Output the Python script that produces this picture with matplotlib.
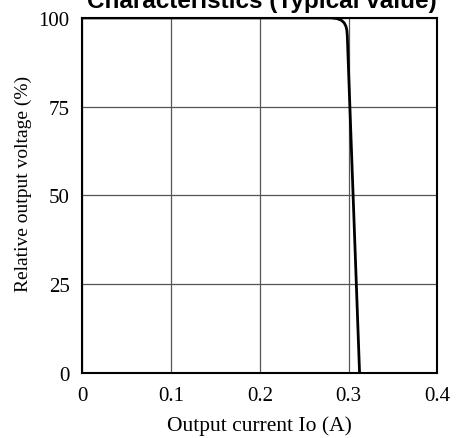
import matplotlib.pyplot as plt

plt.rcParams["font.family"] = ["Liberation Serif", "DejaVu Serif"]

# output characteristic curve
current = [0.0, 0.28, 0.287, 0.292, 0.295, 0.297, 0.298, 0.2985, 0.3123]
voltage = [100.0, 100.0, 99.8, 99.3, 98.6, 97.6, 96.5, 95.0, 0.0]

xticks = [0, 0.1, 0.2, 0.3, 0.4]
xticklabels = ["0", "0.1", "0.2", "0.3", "0.4"]
yticks = [0, 25, 50, 75, 100]

fig = plt.figure(figsize=(4.61, 4.39), dpi=100)
ax = fig.add_axes([0.178, 0.148, 0.771, 0.809])

ax.plot(current, voltage, color="black", linewidth=2, solid_joinstyle="round")

ax.set_xlim(0, 0.4)
ax.set_ylim(0, 100)
ax.set_xticks(xticks)
ax.set_xticklabels(xticklabels)
ax.set_yticks(yticks)
ax.grid(True, color="#555555", linewidth=0.9)
ax.set_axisbelow(True)
ax.tick_params(length=0, labelsize=15)
ax.tick_params(axis="x", pad=9)
ax.tick_params(axis="y", pad=9)
for s in ax.spines.values():
    s.set_linewidth(1.5)

ax.set_xlabel("Output current Io (A)", fontsize=15.5, va="center")
ax.xaxis.set_label_coords(0.5, -0.146)
ax.set_ylabel("Relative output voltage (%)", fontsize=14, va="center")
ax.yaxis.set_label_coords(-0.166, 0.535)

fig.text(0.568, 0.982, "Characteristics (Typical value)", ha="center", va="baseline",
         fontsize=17.5, fontweight="bold", family="Liberation Sans")

fig.savefig("out.png", dpi=100)
